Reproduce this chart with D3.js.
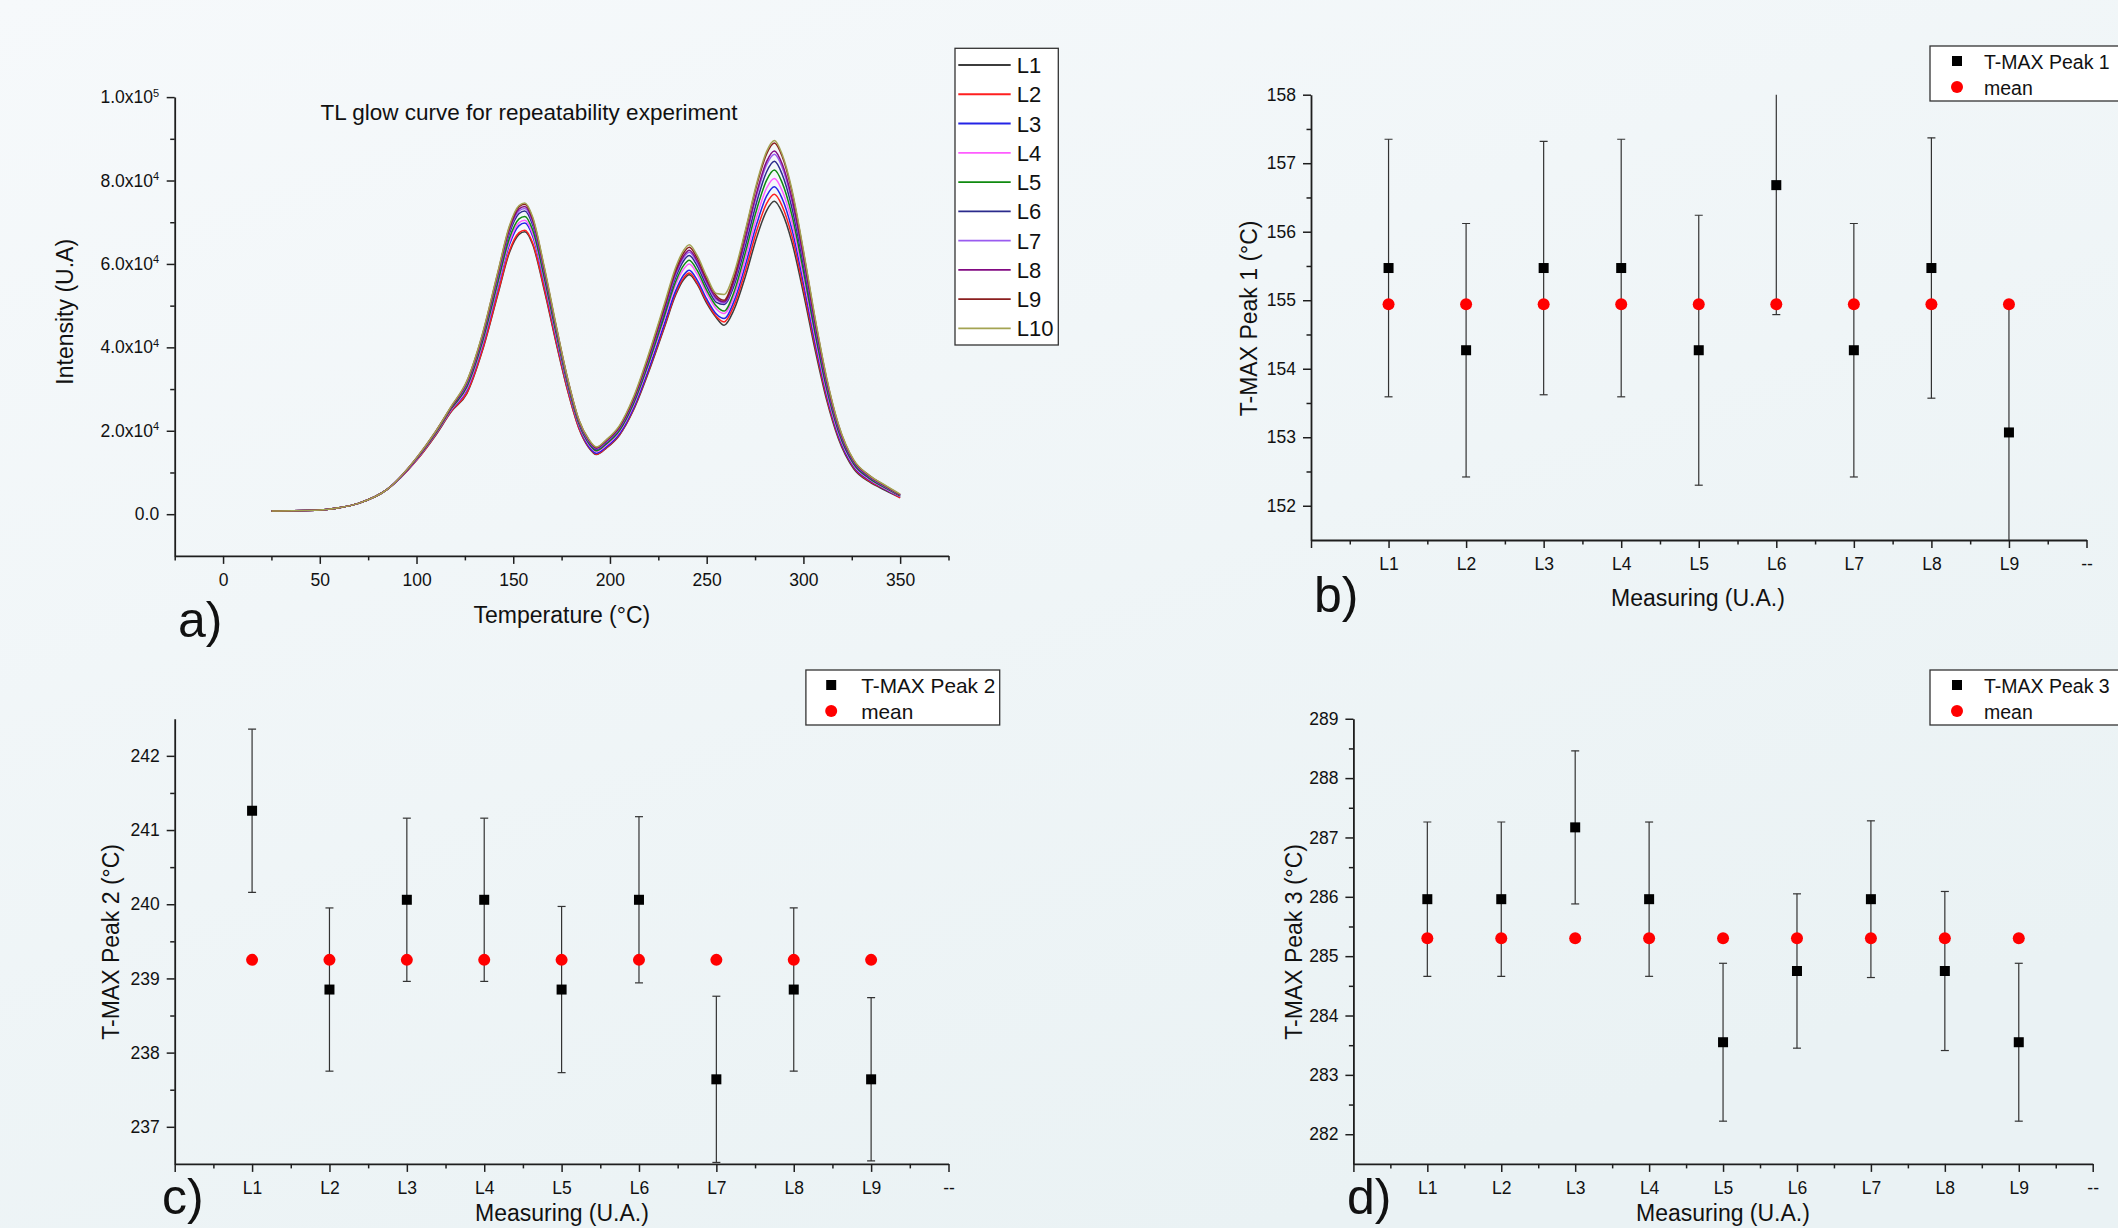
<!DOCTYPE html>
<html><head><meta charset="utf-8">
<script src="https://cdn.jsdelivr.net/npm/d3@7"></script>
<style>
html,body{margin:0;padding:0;overflow:hidden;background:#f1f6f8}
svg{display:block}
text{font-family:"Liberation Sans",Arial,Helvetica,sans-serif;fill:#111}
</style></head><body>
<svg id="chart" width="2118" height="1228"></svg>
<script>
// ---------- DATA ----------
// Panel a: TL glow curves (intensity in 10^3 U.A.)
const temperature = [25,50,60,70,85,100,110,118,126,134,142,148,153,156,160,166,172,178,184,189,193,198,205,212,220,228,234,238,241,245,250,255,259,264,270,276,281,285,289,294,300,306,312,318,326,334,342,350];
const glowL1  = [0.75,1.0,1.55,2.6,6.0,12.9,19.0,24.6,28.9,39.1,52.6,62.7,67.1,67.7,64.7,53.8,41.4,29.8,20.5,16.0,14.3,15.8,19.0,24.8,34.1,44.6,52.6,56.2,57.4,55.2,50.6,47.1,45.3,48.9,57.0,66.6,72.8,75.0,72.3,65.3,53.0,39.5,27.4,18.2,10.9,7.8,5.8,4.0];
const glowL2  = [0.75,1.0,1.55,2.6,6.0,12.9,19.1,24.7,29.1,39.3,52.9,63.1,67.5,68.1,65.1,54.2,41.7,30.0,20.6,16.1,14.4,15.9,19.1,25.0,34.4,44.9,53.0,56.6,57.8,55.5,51.0,47.4,46.1,49.9,58.3,68.2,74.5,76.7,73.9,66.8,54.2,40.4,28.0,18.6,11.2,8.0,6.0,3.9];
const glowL3  = [0.75,1.0,1.55,2.6,6.0,13.1,19.3,25.0,29.8,40.3,54.3,64.6,69.2,69.8,66.7,55.6,42.7,30.7,21.1,16.3,14.6,16.1,19.3,25.3,34.8,45.5,53.6,57.3,58.5,56.2,51.6,48.0,46.9,50.9,59.7,69.8,76.3,78.5,75.7,68.4,55.5,41.3,28.7,19.0,11.4,8.2,6.1,4.2];
const glowL4  = [0.75,1.0,1.55,2.6,6.0,13.1,19.4,25.1,30.1,40.7,54.8,65.2,69.9,70.5,67.3,56.1,43.1,31.0,21.3,16.7,15.0,16.5,19.8,25.9,35.7,46.6,55.0,58.7,60.0,57.6,52.9,49.2,48.1,52.1,61.2,71.5,78.2,80.5,77.6,70.1,56.9,42.4,29.4,19.5,11.7,8.4,6.2,4.3];
const glowL5  = [0.75,1.0,1.55,2.6,6.0,13.2,19.5,25.3,30.5,41.2,55.5,66.1,70.8,71.4,68.2,56.8,43.7,31.4,21.6,17.0,15.2,16.8,20.1,26.3,36.2,47.3,55.8,59.6,60.9,58.5,53.7,49.9,48.7,53.1,62.7,73.3,80.1,82.5,79.5,71.8,58.3,43.4,30.1,20.0,12.0,8.6,6.4,4.4];
const glowL6  = [0.75,1.0,1.55,2.6,6.0,13.3,19.7,25.5,31.0,41.9,56.5,67.3,72.1,72.7,69.4,57.8,44.5,32.0,22.0,17.3,15.5,17.1,20.5,26.8,36.9,48.2,56.8,60.7,62.0,59.6,54.7,50.8,50.3,54.6,64.3,75.1,82.1,84.6,81.5,73.6,59.8,44.5,30.9,20.5,12.3,8.8,6.6,4.5];
const glowL7  = [0.75,1.0,1.55,2.6,6.0,13.4,19.8,25.7,31.3,42.3,57.0,67.9,72.7,73.3,70.0,58.3,44.9,32.2,22.2,17.5,15.7,17.3,20.7,27.1,37.3,48.8,57.5,61.4,62.8,60.3,55.4,51.4,50.6,55.4,65.6,76.7,83.8,86.3,83.2,75.1,61.0,45.4,31.5,20.9,12.6,9.0,6.7,4.6];
const glowL8  = [0.75,1.0,1.55,2.6,6.0,13.4,19.8,25.7,31.5,42.6,57.4,68.3,73.2,73.8,70.5,58.7,45.2,32.5,22.3,17.7,15.8,17.5,20.9,27.3,37.6,49.1,58.0,61.9,63.3,60.8,55.8,51.8,50.9,55.8,66.2,77.4,84.6,87.1,84.0,75.8,61.6,45.8,31.8,21.1,12.7,9.1,6.8,4.6];
const glowL9  = [0.75,1.0,1.55,2.6,6.0,13.5,19.9,25.8,31.8,42.9,57.8,68.8,73.7,74.3,71.0,59.1,45.5,32.7,22.5,17.9,16.0,17.7,21.1,27.6,38.0,49.7,58.6,62.6,64.0,61.5,56.4,52.4,51.3,56.6,67.7,79.1,86.4,89.0,85.8,77.5,62.9,46.8,32.5,21.6,12.9,9.3,6.9,4.7];
const glowL10 = [0.75,1.0,1.55,2.6,6.0,13.5,19.9,25.9,31.9,43.1,58.0,69.1,74.0,74.6,71.3,59.4,45.7,32.8,22.6,18.0,16.1,17.8,21.3,27.9,38.4,50.2,59.2,63.2,64.6,62.1,57.0,52.9,52.7,57.6,68.1,79.6,87.0,89.6,86.3,78.0,63.3,47.1,32.7,21.7,13.0,9.3,7.0,4.8];
const glowNames  = ["L1","L2","L3","L4","L5","L6","L7","L8","L9","L10"];
const glowColors = ["#3c3c3c","#ff1f1f","#2424e6","#ff5cff","#0f8a0f","#2b2b8c","#9a5cf0","#820a82","#8a1e1e","#a3a352"];
const tempTicks = [0,50,100,150,200,250,300,350];
const intensityTicks = [0,20,40,60,80,100];

// Panels b, c, d: T-MAX per measurement
const measurements = ["L1","L2","L3","L4","L5","L6","L7","L8","L9"];
const measTickLabels = ["","L1","L2","L3","L4","L5","L6","L7","L8","L9","--"];
const peak1    = [155.47,154.27,155.47,155.47,154.27,156.68,154.27,155.47,153.07];
const peak1Err = [1.88,1.85,1.85,1.88,1.97,1.89,1.85,1.90,1.87];
const peak1Mean = 154.94;
const peak2    = [241.26,238.85,240.06,240.06,238.85,240.06,237.64,238.85,237.64];
const peak2Err = [1.10,1.10,1.10,1.10,1.12,1.12,1.12,1.10,1.10];
const peak2Mean = 239.25;
const peak3    = [285.96,285.96,287.17,285.96,283.55,284.75,285.96,284.75,283.55];
const peak3Err = [1.30,1.30,1.29,1.30,1.33,1.30,1.32,1.34,1.33];
const peak3Mean = 285.30;

// ---------- DRAW ----------
const svg = d3.select("#chart");
const defs = svg.append("defs");
const grad = defs.append("linearGradient").attr("id","bg").attr("x1","0").attr("y1","0").attr("x2","0.6").attr("y2","1");
grad.append("stop").attr("offset","0").attr("stop-color","#f6f9fb");
grad.append("stop").attr("offset","1").attr("stop-color","#eaf2f4");
svg.append("rect").attr("width",2118).attr("height",1228).attr("fill","url(#bg)");

const AX = "#1e1e1e";
function styleAxis(g){
  g.select(".domain").attr("stroke",AX).attr("stroke-width",1.8);
  g.selectAll(".tick line").attr("stroke",AX).attr("stroke-width",1.5);
  g.selectAll(".tick text").attr("font-size","17.5px").attr("fill","#111")
   .attr("font-family",'"Liberation Sans",Arial,sans-serif');
}
function minorAxis(g, axis){ g.call(axis); g.select(".domain").remove();
  g.selectAll(".tick line").attr("stroke",AX).attr("stroke-width",1.5); g.selectAll(".tick text").remove(); }

function label(txt, x, y, rot, size){
  const t = svg.append("text").attr("text-anchor","middle").attr("font-size",size||"23px").text(txt);
  if(rot){ t.attr("transform",`translate(${x},${y}) rotate(-90)`).attr("dy","0.35em"); }
  else { t.attr("x",x).attr("y",y); }
  return t;
}
function panelLetter(txt,x,y){
  svg.append("text").attr("x",x).attr("y",y).attr("font-family","Lato, 'Open Sans', sans-serif")
    .attr("font-weight",300).attr("font-size","50px").attr("fill","#111").text(txt);
}

// ---- Panel a ----
const xa = d3.scaleLinear().domain([-25,375]).range([174.7,948.5]);
const ya = d3.scaleLinear().domain([-10,100]).range([555.9,97.1]);
{
  const gx = svg.append("g").attr("transform",`translate(0,${ya.range()[0]})`);
  minorAxis(gx.append("g"), d3.axisBottom(xa).tickValues(d3.range(-25,376,50)).tickSize(4.5).tickSizeOuter(0));
  const gxm = gx.append("g").call(d3.axisBottom(xa).tickValues(tempTicks).tickSize(8).tickPadding(9.8).tickSizeOuter(0));
  styleAxis(gxm);
  const gy = svg.append("g").attr("transform",`translate(${xa.range()[0]},0)`);
  minorAxis(gy.append("g"), d3.axisLeft(ya).tickValues([10,30,50,70,90]).tickSize(4.5).tickSizeOuter(0));
  const gym = gy.append("g").call(d3.axisLeft(ya).tickValues(intensityTicks).tickSize(8).tickPadding(7.5).tickSizeOuter(0));
  styleAxis(gym);
  gym.selectAll(".tick text").each(function(d){
    const t = d3.select(this); t.text(null);
    if(d===0){ t.text("0.0"); return; }
    const v = d*1000, e = Math.floor(Math.log10(v)), m = (v/Math.pow(10,e)).toFixed(1);
    t.append("tspan").text(m+"x10");
    t.append("tspan").attr("dy","-0.6em").attr("font-size","11px").text(e);
  });
  const line = d3.line().x(d=>xa(d[0])).y(d=>ya(d[1])).curve(d3.curveMonotoneX);
  const series = [glowL1,glowL2,glowL3,glowL4,glowL5,glowL6,glowL7,glowL8,glowL9,glowL10];
  const gl = svg.append("g");
  series.forEach((s,i)=>{
    const pts = temperature.map((t,k)=>[t,s[k]]).filter(p=>p[1]!==undefined);
    gl.append("path").attr("d",line(pts)).attr("fill","none").attr("stroke",glowColors[i]).attr("stroke-width",1.5);
  });
  // legend
  const lg = svg.append("g");
  lg.append("rect").attr("x",955).attr("y",48.3).attr("width",103.3).attr("height",296.7)
    .attr("fill","#ffffff").attr("stroke","#333").attr("stroke-width",1.3);
  glowNames.forEach((n,i)=>{
    const yy = 65 + i*29.26;
    lg.append("line").attr("x1",958.3).attr("x2",1010.7).attr("y1",yy).attr("y2",yy)
      .attr("stroke",glowColors[i]).attr("stroke-width",1.8);
    lg.append("text").attr("x",1016.7).attr("y",yy+8).attr("font-size","22px").text(n);
  });
  svg.append("text").attr("x",529).attr("y",120).attr("text-anchor","middle").attr("font-size","22.5px")
    .text("TL glow curve for repeatability experiment");
  label("Intensity (U.A)",64.8,311.8,true);
  label("Temperature (°C)",561.9,623,false);
  panelLetter("a)",178,637);
}

// ---- Error-bar panels ----
function errorPanel(cfg){
  const x = d3.scaleLinear().domain([0,10]).range(cfg.xr);
  const y = d3.scaleLinear().domain(cfg.yd).range(cfg.yr);
  const id = "clip"+cfg.key;
  defs.append("clipPath").attr("id",id).append("rect")
    .attr("x",cfg.xr[0]).attr("y",cfg.yr[1]).attr("width",cfg.xr[1]-cfg.xr[0]).attr("height",cfg.yr[0]-cfg.yr[1]);
  const gx = svg.append("g").attr("transform",`translate(0,${cfg.yr[0]})`);
  minorAxis(gx.append("g"), d3.axisBottom(x).tickValues(d3.range(0.5,10,1)).tickSize(4.5).tickSizeOuter(0));
  const gxm = gx.append("g").call(d3.axisBottom(x).tickValues(d3.range(0,11,1))
      .tickFormat(d=>measTickLabels[d]).tickSize(8).tickPadding(9.5).tickSizeOuter(0));
  styleAxis(gxm);
  const gy = svg.append("g").attr("transform",`translate(${cfg.xr[0]},0)`);
  const lo = Math.ceil(cfg.yd[0]), hi = Math.floor(cfg.yd[1]);
  minorAxis(gy.append("g"), d3.axisLeft(y).tickValues(d3.range(lo-0.5,hi+0.01,1).filter(v=>v>cfg.yd[0])).tickSize(4.5).tickSizeOuter(0));
  const gym = gy.append("g").call(d3.axisLeft(y).tickValues(d3.range(lo,hi+1,1)).tickFormat(d3.format("d"))
      .tickSize(8).tickPadding(7).tickSizeOuter(0));
  styleAxis(gym);

  const plot = svg.append("g").attr("clip-path",`url(#${id})`);
  cfg.values.forEach((v,i)=>{
    const cx = x(i+1), e = cfg.errs[i];
    const y1 = y(v+e), y2 = y(v-e);
    plot.append("line").attr("x1",cx).attr("x2",cx).attr("y1",y1).attr("y2",y2).attr("stroke","#333").attr("stroke-width",1.2);
    [y1,y2].forEach(yy=>plot.append("line").attr("x1",cx-4).attr("x2",cx+4).attr("y1",yy).attr("y2",yy)
      .attr("stroke","#333").attr("stroke-width",1.2));
  });
  measurements.forEach((m,i)=>{
    plot.append("circle").attr("cx",x(i+1)).attr("cy",y(cfg.mean)).attr("r",6).attr("fill","#ff0000");
  });
  cfg.values.forEach((v,i)=>{
    plot.append("rect").attr("x",x(i+1)-5).attr("y",y(v)-5).attr("width",10).attr("height",10).attr("fill","#000");
  });
  // legend
  const L = cfg.legend;
  svg.append("rect").attr("x",L.x).attr("y",L.y).attr("width",L.w).attr("height",55)
    .attr("fill","#ffffff").attr("stroke","#333").attr("stroke-width",1.3);
  svg.append("rect").attr("x",L.mx-5).attr("y",L.y+15-5).attr("width",10).attr("height",10).attr("fill","#000");
  svg.append("circle").attr("cx",L.mx).attr("cy",L.y+41).attr("r",6).attr("fill","#ff0000");
  svg.append("text").attr("x",L.tx).attr("y",L.y+22.5).attr("font-size",L.fs).text(cfg.name);
  svg.append("text").attr("x",L.tx).attr("y",L.y+48.5).attr("font-size",L.fs).text("mean");
  label(cfg.ylabel, cfg.ylx, cfg.yly, true);
  label("Measuring (U.A.)", cfg.xlx, cfg.xly, false);
  panelLetter(cfg.letter, cfg.lx, cfg.ly);
}

errorPanel({key:"b", xr:[1311,2086.5], yd:[151.5,158], yr:[540,94.7], values:peak1, errs:peak1Err, mean:peak1Mean,
  name:"T-MAX Peak 1", legend:{x:1930,y:46,w:260,mx:1957,tx:1984,fs:"19.5px"},
  ylabel:"T-MAX Peak 1 (°C)", ylx:1248.8, yly:318.4, xlx:1698, xly:606, letter:"b)", lx:1314, ly:612});
errorPanel({key:"c", xr:[174.7,948.5], yd:[236.5,242.5], yr:[1163.9,718.75], values:peak2, errs:peak2Err, mean:peak2Mean,
  name:"T-MAX Peak 2", legend:{x:805.9,y:670,w:193.8,mx:831.2,tx:861.2,fs:"20.8px"},
  ylabel:"T-MAX Peak 2 (°C)", ylx:110.5, yly:941.9, xlx:562, xly:1221, letter:"c)", lx:162, ly:1214});
errorPanel({key:"d", xr:[1353.4,2092.7], yd:[281.5,289], yr:[1163.9,718.75], values:peak3, errs:peak3Err, mean:peak3Mean,
  name:"T-MAX Peak 3", legend:{x:1930,y:670,w:260,mx:1957,tx:1984,fs:"19.5px"},
  ylabel:"T-MAX Peak 3 (°C)", ylx:1293.7, yly:941.9, xlx:1723, xly:1221, letter:"d)", lx:1347, ly:1214});
</script>
</body></html>
